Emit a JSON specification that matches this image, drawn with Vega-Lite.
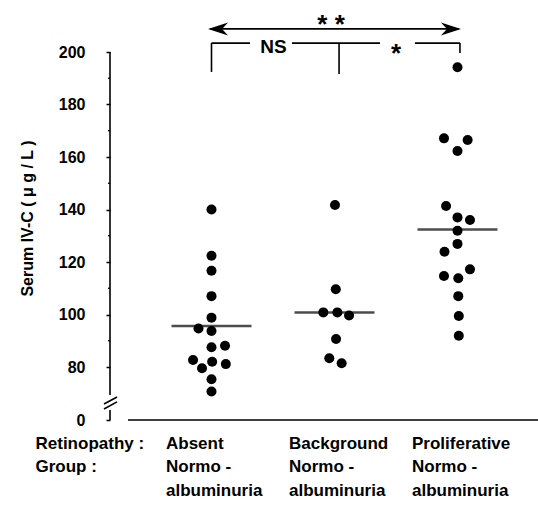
{
  "$schema": "https://vega.github.io/schema/vega-lite/v6.json",
  "width": 428,
  "height": 368,
  "autosize": {"type": "none"},
  "padding": {"left": 110, "top": 52, "right": 0, "bottom": 86},
  "background": "white",
  "config": {"view": {"stroke": null}, "font": "Liberation Sans", "axis": {"grid": false, "labelOverlap": false}},
  "datasets": {
    "dots": [
      {"group": "Absent", "value": 140, "slot": 0},
      {"group": "Absent", "value": 122.4, "slot": 0},
      {"group": "Absent", "value": 116.7, "slot": 0},
      {"group": "Absent", "value": 107, "slot": 0},
      {"group": "Absent", "value": 98.8, "slot": 0},
      {"group": "Absent", "value": 94.7, "slot": -1.0},
      {"group": "Absent", "value": 93.7, "slot": 0},
      {"group": "Absent", "value": 88.1, "slot": 1.04},
      {"group": "Absent", "value": 87.5, "slot": 0},
      {"group": "Absent", "value": 82.7, "slot": -1.42},
      {"group": "Absent", "value": 82, "slot": 0.05},
      {"group": "Absent", "value": 81.1, "slot": 1.1},
      {"group": "Absent", "value": 79.5, "slot": -0.73},
      {"group": "Absent", "value": 75.3, "slot": 0},
      {"group": "Absent", "value": 70.7, "slot": 0},
      {"group": "Background", "value": 141.7, "slot": 0.04},
      {"group": "Background", "value": 109.6, "slot": 0.1},
      {"group": "Background", "value": 100.8, "slot": -0.86},
      {"group": "Background", "value": 100.8, "slot": 0.22},
      {"group": "Background", "value": 99.6, "slot": 1.12},
      {"group": "Background", "value": 90.7, "slot": 0.12},
      {"group": "Background", "value": 83.3, "slot": -0.4},
      {"group": "Background", "value": 81.4, "slot": 0.55},
      {"group": "Proliferative", "value": 194.2, "slot": 0},
      {"group": "Proliferative", "value": 167.1, "slot": -1.04},
      {"group": "Proliferative", "value": 166.5, "slot": 0.78},
      {"group": "Proliferative", "value": 162.3, "slot": 0},
      {"group": "Proliferative", "value": 141.3, "slot": -0.88},
      {"group": "Proliferative", "value": 137, "slot": 0},
      {"group": "Proliferative", "value": 136, "slot": 0.96},
      {"group": "Proliferative", "value": 131.9, "slot": 0},
      {"group": "Proliferative", "value": 126.9, "slot": 0},
      {"group": "Proliferative", "value": 123.9, "slot": -1.0},
      {"group": "Proliferative", "value": 117.2, "slot": 0.96},
      {"group": "Proliferative", "value": 114.7, "slot": -1.04},
      {"group": "Proliferative", "value": 113.8, "slot": 0.06},
      {"group": "Proliferative", "value": 107, "slot": 0.06},
      {"group": "Proliferative", "value": 99.4, "slot": 0.1},
      {"group": "Proliferative", "value": 91.9, "slot": 0.1}
    ],
    "means": [
      {"group": "Absent", "mean": 95.6},
      {"group": "Background", "mean": 100.8},
      {"group": "Proliferative", "mean": 132.4}
    ],
    "minorTicks": [
      {"y": 90}, {"y": 110}, {"y": 130}, {"y": 150}, {"y": 170}, {"y": 190}
    ],
    "segments": [
      {"x": 0.1748, "x2": 0.1748, "y": 200, "y2": 69.3},
      {"x": 0.1748, "x2": 0.1748, "y": 0, "y2": 40.6},
      {"x": 0.126, "x2": 0.232, "y": 65.0, "y2": 68.6},
      {"x": 0.126, "x2": 0.232, "y": 44.7, "y2": 66.7},
      {"x": 0.321, "x2": 3.6545, "y": 0, "y2": 0},
      {"x": 1.0, "x2": 1.313, "y": 203.4, "y2": 203.4},
      {"x": 1.654, "x2": 2.37, "y": 203.4, "y2": 203.4},
      {"x": 2.654, "x2": 3.02, "y": 203.4, "y2": 203.4},
      {"x": 1.0, "x2": 1.0, "y": 203.4, "y2": 192.4},
      {"x": 2.037, "x2": 2.037, "y": 203.4, "y2": 191.6},
      {"x": 3.02, "x2": 3.02, "y": 203.4, "y2": 199.6},
      {"x": 0.99, "x2": 3.01, "y": 208.8, "y2": 208.8}
    ],
    "heads": [
      {"x": 0.972, "y": 208.8, "dir": "left"},
      {"x": 3.028, "y": 208.8, "dir": "right"}
    ],
    "nsText": [
      {"x": 1.504, "y": 199.5, "label": "NS"}
    ],
    "stars": [
      {"x": 1.972, "y": 207.1, "label": "* *"},
      {"x": 2.5, "y": 196.1, "label": "*"}
    ]
  },
  "resolve": {"scale": {"x": "independent"}},
  "layer": [
    {
      "data": {"name": "dots"},
      "mark": {"type": "point", "filled": true, "shape": "circle", "size": 100, "color": "black", "opacity": 1},
      "encoding": {
        "x": {
          "field": "group", "type": "nominal",
          "scale": {"type": "point", "domain": ["Absent", "Background", "Proliferative"], "range": [101.5, 347.5], "padding": 0},
          "axis": {
            "domain": false, "ticks": false,
            "labelExpr": "[datum.label, 'Normo -', 'albuminuria']",
            "labelAlign": "left", "labelOffset": -46, "labelBaseline": "top", "labelPadding": 15,
            "labelLineHeight": 23.5, "labelFontSize": 17, "labelFontWeight": "bold", "labelColor": "black",
            "labelAngle": 0, "labelFlush": false, "labelOverlap": false,
            "title": ["Retinopathy :", "Group :"],
            "titleAlign": "left", "titleX": -75, "titleY": 15, "titleBaseline": "top",
            "titleFontSize": 17, "titleFontWeight": "bold", "titleLineHeight": 23.5, "titleColor": "black"
          }
        },
        "xOffset": {"field": "slot", "type": "quantitative", "scale": {"domain": [-1.5, 1.5], "range": [-19.5, 19.5]}},
        "y": {
          "field": "value", "type": "quantitative",
          "scale": {"domain": [0, 66, 200], "range": [368, 351.75, 0], "zero": false, "nice": false},
          "axis": {
            "values": [0, 80, 100, 120, 140, 160, 180, 200],
            "domain": false, "grid": false,
            "format": "d",
            "tickSize": 4,
            "tickWidth": 1.5, "tickColor": "black",
            "labelFontSize": 16, "labelFontWeight": "bold", "labelColor": "black", "labelPadding": 21,
            "labelOverlap": false, "labelFlush": false, "labelBound": false,
            "title": "Serum IV-C ( μ g / L )",
            "titleFontSize": 16, "titleFontWeight": "bold", "titleColor": "black",
            "titleX": -83, "titleY": 166, "titleAngle": -90, "titleAlign": "center", "titleBaseline": "middle"
          }
        }
      }
    },
    {
      "data": {"name": "segments"},
      "mark": {"type": "rule", "color": "black", "strokeWidth": 1.6},
      "encoding": {
        "x": {"field": "x", "type": "quantitative", "scale": {"domain": [1, 3], "range": [101.5, 347.5], "zero": false, "nice": false}, "axis": null},
        "x2": {"field": "x2"},
        "y": {"field": "y", "type": "quantitative", "scale": {"domain": [0, 66, 200], "range": [368, 351.75, 0], "zero": false, "nice": false}},
        "y2": {"field": "y2"}
      }
    },
    {
      "data": {"name": "minorTicks"},
      "mark": {"type": "rule", "color": "black", "strokeWidth": 1.3},
      "encoding": {
        "x": {"datum": 0.158, "type": "quantitative", "scale": {"domain": [1, 3], "range": [101.5, 347.5], "zero": false, "nice": false}, "axis": null},
        "x2": {"datum": 0.1748},
        "y": {"field": "y", "type": "quantitative", "scale": {"domain": [0, 66, 200], "range": [368, 351.75, 0], "zero": false, "nice": false}}
      }
    },
    {
      "data": {"name": "means"},
      "mark": {"type": "tick", "color": "black", "size": 80, "thickness": 2.5, "orient": "horizontal"},
      "encoding": {
        "x": {"field": "group", "type": "nominal", "scale": {"type": "point", "domain": ["Absent", "Background", "Proliferative"], "range": [101.5, 347.5], "padding": 0}, "axis": null},
        "y": {"field": "mean", "type": "quantitative", "scale": {"domain": [0, 66, 200], "range": [368, 351.75, 0], "zero": false, "nice": false}}
      }
    },
    {
      "data": {"name": "heads"},
      "mark": {"type": "point", "filled": true, "size": 400, "color": "black", "opacity": 1, "strokeWidth": 0},
      "encoding": {
        "x": {"field": "x", "type": "quantitative", "scale": {"domain": [1, 3], "range": [101.5, 347.5], "zero": false, "nice": false}, "axis": null},
        "y": {"field": "y", "type": "quantitative", "scale": {"domain": [0, 66, 200], "range": [368, 351.75, 0], "zero": false, "nice": false}},
        "shape": {"field": "dir", "type": "nominal", "scale": {"domain": ["left", "right"], "range": ["M 0 0 L 2 -0.65 L 1.4 0 L 2 0.65 Z", "M 0 0 L -2 -0.65 L -1.4 0 L -2 0.65 Z"]}, "legend": null}
      }
    },
    {
      "data": {"name": "nsText"},
      "mark": {"type": "text", "fontSize": 19, "fontWeight": "bold", "color": "black", "align": "center", "baseline": "alphabetic", "font": "Liberation Sans"},
      "encoding": {
        "x": {"field": "x", "type": "quantitative", "scale": {"domain": [1, 3], "range": [101.5, 347.5], "zero": false, "nice": false}, "axis": null},
        "y": {"field": "y", "type": "quantitative", "scale": {"domain": [0, 66, 200], "range": [368, 351.75, 0], "zero": false, "nice": false}},
        "text": {"field": "label"}
      }
    },
    {
      "data": {"name": "stars"},
      "mark": {"type": "text", "fontSize": 26, "fontWeight": "bold", "color": "black", "align": "center", "baseline": "alphabetic", "font": "Liberation Sans"},
      "encoding": {
        "x": {"field": "x", "type": "quantitative", "scale": {"domain": [1, 3], "range": [101.5, 347.5], "zero": false, "nice": false}, "axis": null},
        "y": {"field": "y", "type": "quantitative", "scale": {"domain": [0, 66, 200], "range": [368, 351.75, 0], "zero": false, "nice": false}},
        "text": {"field": "label"}
      }
    }
  ]
}
